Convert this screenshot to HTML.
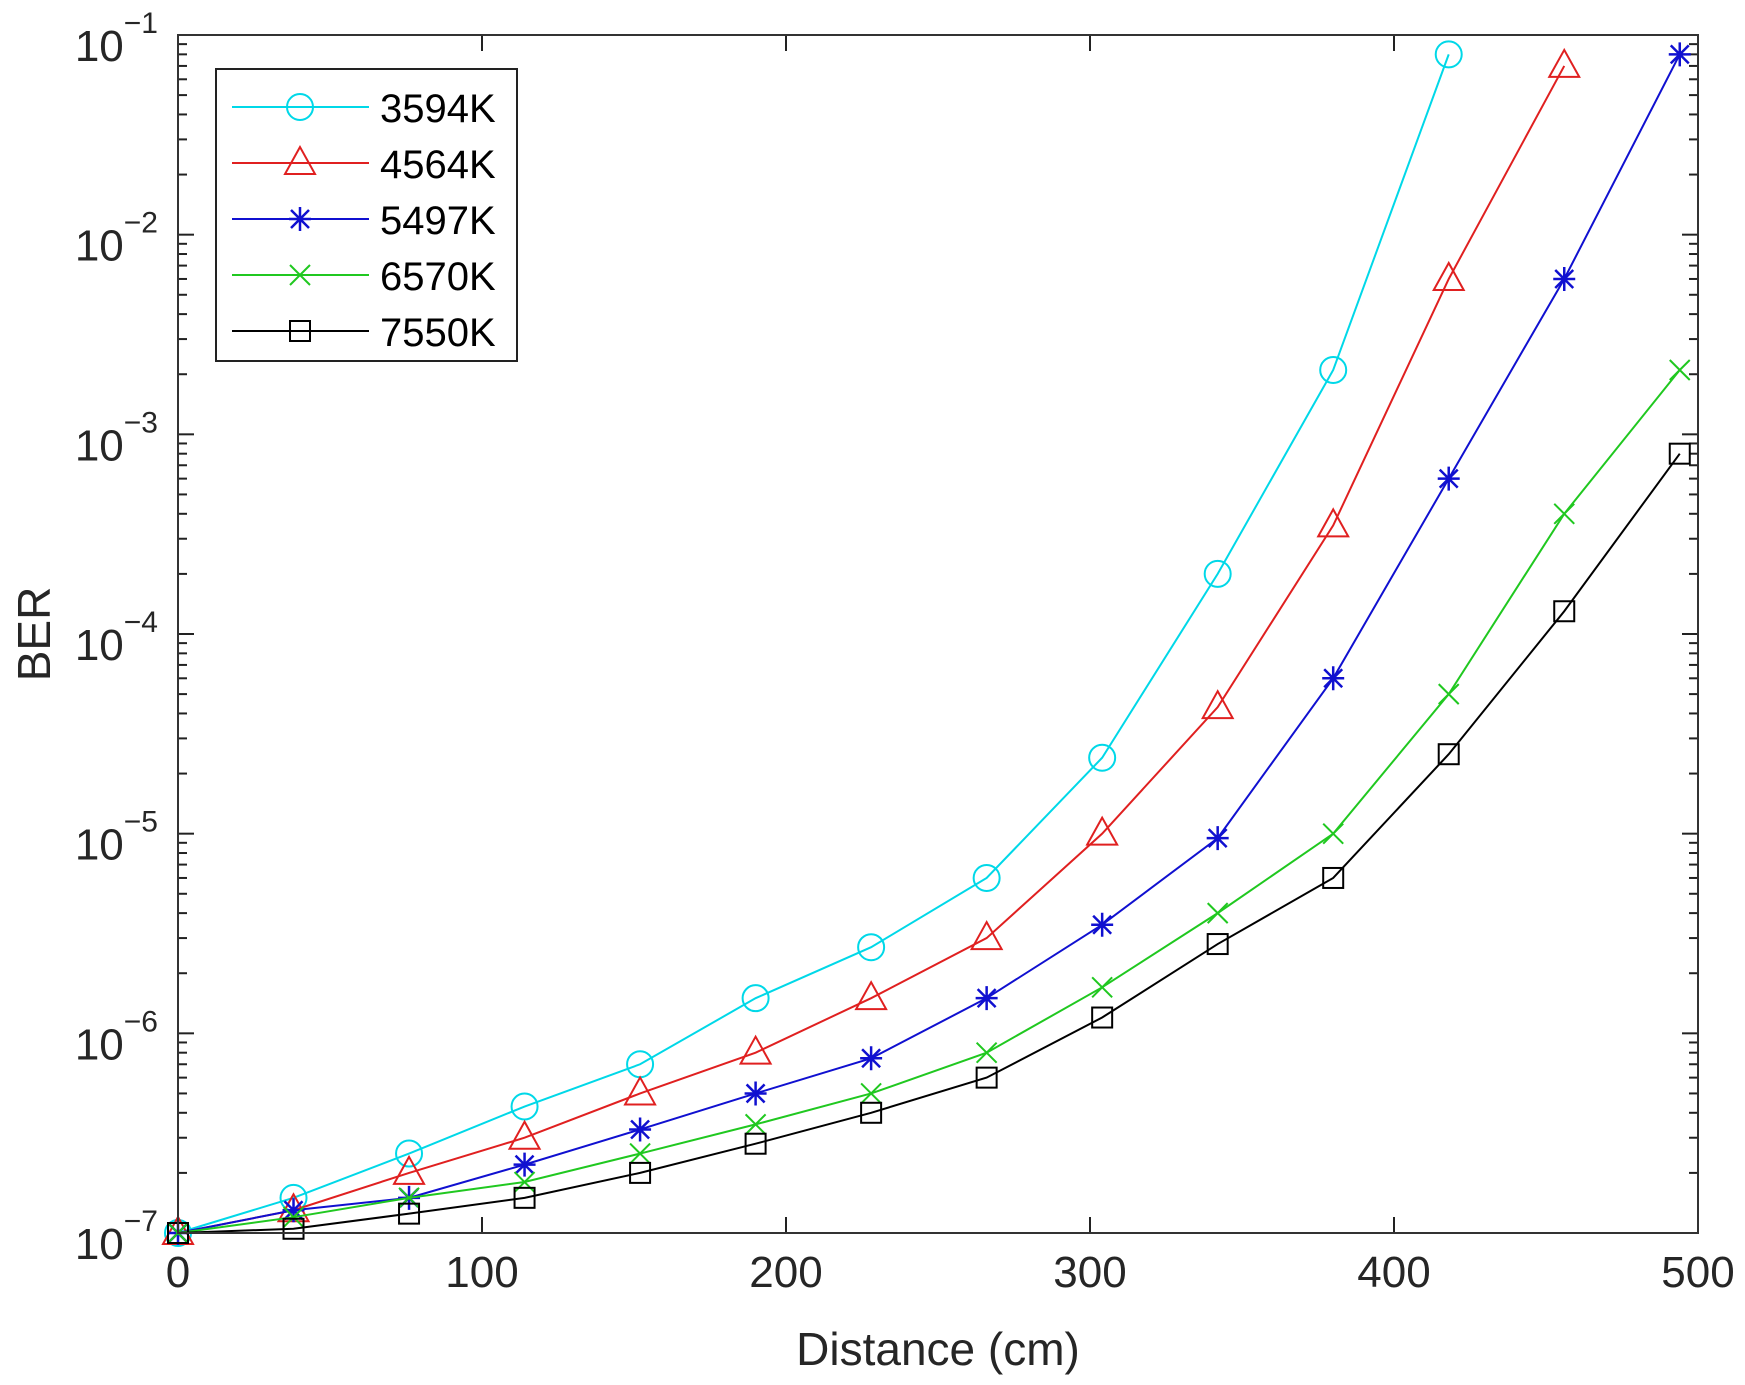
<!DOCTYPE html>
<html><head><meta charset="utf-8"><style>
html,body{margin:0;padding:0;background:#fff;}
svg{display:block;font-family:"Liberation Sans",Arial,sans-serif;}
</style></head><body>
<svg id="s" width="1745" height="1385" viewBox="0 0 1745 1385" xmlns="http://www.w3.org/2000/svg"></svg>
<script>
const L=178,R=1698,T=35,B=1233;
const X=v=>L+(v/500)*(R-L);
const Y=v=>B-(Math.log10(v)+7)*(B-T)/6;
let h='<rect width="1745" height="1385" fill="#fff"/>';
for(let d=-7;d<-1;d++){for(let m=2;m<=9;m++){const y=Y(m*Math.pow(10,d));h+=`<line x1="${L}" y1="${y}" x2="${L+9}" y2="${y}" stroke="#222" stroke-width="2"/><line x1="${R}" y1="${y}" x2="${R-9}" y2="${y}" stroke="#222" stroke-width="2"/>`;}}
for(let d=-7;d<=-1;d++){const y=Y(Math.pow(10,d));h+=`<line x1="${L}" y1="${y}" x2="${L+16}" y2="${y}" stroke="#222" stroke-width="2"/><line x1="${R}" y1="${y}" x2="${R-16}" y2="${y}" stroke="#222" stroke-width="2"/>`;
h+=`<text x="${L-20}" y="${y+26}" font-size="44" fill="#262626" text-anchor="end">10<tspan font-size="30" dy="-28">−${-d}</tspan></text>`;}
for(let v=0;v<=500;v+=100){const x=X(v);h+=`<line x1="${x}" y1="${B}" x2="${x}" y2="${B-16}" stroke="#222" stroke-width="2"/><line x1="${x}" y1="${T}" x2="${x}" y2="${T+16}" stroke="#222" stroke-width="2"/><text x="${x}" y="${B+54}" font-size="44" fill="#262626" text-anchor="middle">${v}</text>`;}
h+=`<text x="${(L+R)/2}" y="${B+132}" font-size="46" fill="#262626" text-anchor="middle">Distance (cm)</text>`;
h+=`<text transform="translate(50,${(T+B)/2}) rotate(-90)" font-size="46" fill="#262626" text-anchor="middle">BER</text>`;
const xs=[0,38,76,114,152,190,228,266,304,342,380,418,456,494];
const S=[
{c:'#00d8e8',m:'o',d:[1e-7,1.5e-7,2.5e-7,4.3e-7,7e-7,1.5e-6,2.7e-6,6e-6,2.4e-5,2e-4,2.1e-3,8e-2],n:'3594K'},
{c:'#e02020',m:'t',d:[1e-7,1.3e-7,2e-7,3e-7,5e-7,8e-7,1.5e-6,3e-6,1e-5,4.3e-5,3.5e-4,6e-3,7e-2],n:'4564K'},
{c:'#1010d0',m:'*',d:[1e-7,1.3e-7,1.5e-7,2.2e-7,3.3e-7,5e-7,7.5e-7,1.5e-6,3.5e-6,9.5e-6,6e-5,6e-4,6e-3,8e-2],n:'5497K'},
{c:'#20c820',m:'x',d:[1e-7,1.2e-7,1.5e-7,1.8e-7,2.5e-7,3.5e-7,5e-7,8e-7,1.7e-6,4e-6,1e-5,5e-5,4e-4,2.1e-3],n:'6570K'},
{c:'#000',m:'s',d:[1e-7,1.05e-7,1.25e-7,1.5e-7,2e-7,2.8e-7,4e-7,6e-7,1.2e-6,2.8e-6,6e-6,2.5e-5,1.3e-4,8e-4],n:'7550K'}];
function mk(m,x,y,c){
 if(m=='o')return `<circle cx="${x}" cy="${y}" r="13" fill="none" stroke="${c}" stroke-width="2"/>`;
 if(m=='t')return `<polygon points="${x},${y-16} ${x-15},${y+11} ${x+15},${y+11}" fill="none" stroke="${c}" stroke-width="2"/>`;
 if(m=='*')return `<path d="M${x-11} ${y}H${x+11}M${x} ${y-12}V${y+12}M${x-9} ${y-9}L${x+9} ${y+9}M${x-9} ${y+9}L${x+9} ${y-9}" stroke="${c}" stroke-width="2.5"/>`;
 if(m=='x')return `<path d="M${x-10} ${y-10}L${x+10} ${y+10}M${x-10} ${y+10}L${x+10} ${y-10}" stroke="${c}" stroke-width="2"/>`;
 return `<rect x="${x-10}" y="${y-10}" width="20" height="20" fill="none" stroke="${c}" stroke-width="2"/>`;}
for(const s of S){const p=s.d.map((v,i)=>`${X(xs[i])},${Y(v)}`).join(' ');h+=`<polyline points="${p}" fill="none" stroke="${s.c}" stroke-width="2"/>`;
s.d.forEach((v,i)=>h+=mk(s.m,X(xs[i]),Y(v),s.c));}
h+=`<rect x="${L}" y="${T}" width="${R-L}" height="${B-T}" fill="none" stroke="#333" stroke-width="2"/>`;
h+=`<rect x="216" y="69" width="301" height="292" fill="#fff" stroke="#222" stroke-width="2"/>`;
S.forEach((s,i)=>{const y=107+i*56;h+=`<line x1="232" y1="${y}" x2="369" y2="${y}" stroke="${s.c}" stroke-width="2"/>`+mk(s.m,300,y,s.c)+`<text x="380" y="${y+15}" font-size="40" fill="#000">${s.n}</text>`;});
document.getElementById('s').innerHTML=h;
</script>
</body></html>
